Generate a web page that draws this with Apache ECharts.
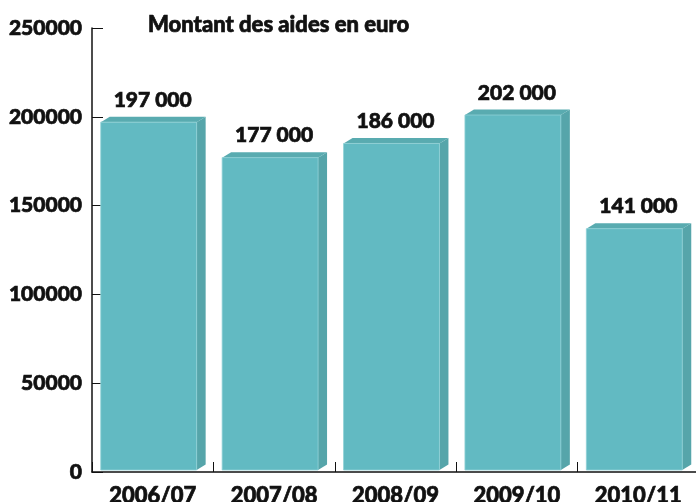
<!DOCTYPE html>
<html>
<head>
<meta charset="utf-8">
<script src="https://cdn.jsdelivr.net/npm/echarts@6/dist/echarts.min.js"></script>
<style>
html,body{margin:0;padding:0;background:#fff;}
#chart{width:696px;height:502px;}
</style>
</head>
<body>
<div id="chart"></div>
<script>
// Data
const categories = ['2006/07', '2007/08', '2008/09', '2009/10', '2010/11'];
// bar heights as drawn in the picture
const barHeights = [197000, 177000, 185000, 201000, 137000];
// amounts written above the bars
const amountLabels = ['197 000', '177 000', '186 000', '202 000', '141 000'];
const yTicks = [0, 50000, 100000, 150000, 200000, 250000];
const titleText = 'Montant des aides en euro';

const FONT = 'Lato';
const INK = '#111';
const chart = echarts.init(document.getElementById('chart'), null, {renderer: 'canvas'});

function renderBar(params, api) {
  const cat = api.value(0);
  const val = api.value(1);
  const top = api.coord([cat, val]);
  const base = api.coord([cat, 0]);
  const band = api.size([1, 0])[0];
  const w = band * 0.79;
  const dx = 9, dy = 5.5;
  const x = top[0] - w / 2 - 4;
  const y = top[1];
  const bottom = base[1] - 2;
  return {
    type: 'group',
    children: [
      {
        type: 'polygon',
        shape: {points: [[x + w, y], [x + w + dx, y - dy], [x + w + dx, bottom - dy], [x + w, bottom]]},
        style: {fill: '#56a5aa'}
      },
      {
        type: 'polygon',
        shape: {points: [[x, y], [x + dx, y - dy], [x + w + dx, y - dy], [x + w, y]]},
        style: {fill: '#59abb0'}
      },
      {
        type: 'rect',
        shape: {x: x, y: y, width: w, height: bottom - y},
        style: {fill: '#62bac2', stroke: '#8fd0d6', lineWidth: 0.8}
      },
      {
        type: 'text',
        x: top[0],
        y: y - 22,
        style: {
          text: amountLabels[params.dataIndex],
          fill: INK,
          font: '900 21px ' + FONT,
          stroke: INK,
          lineWidth: 0.7,
          align: 'center',
          verticalAlign: 'middle'
        }
      }
    ]
  };
}

const heavy = {color: INK, fontFamily: FONT, fontWeight: 900, textBorderColor: INK, textBorderWidth: 0.7};

const option = {
  animation: false,
  backgroundColor: '#ffffff',
  title: {
    text: titleText,
    left: 143,
    top: 9,
    textStyle: Object.assign({}, heavy, {fontSize: 22})
  },
  grid: {left: 92, right: -3, top: 28, bottom: 30, containLabel: false, outerBoundsMode: 'none'},
  xAxis: {
    type: 'category',
    data: categories,
    boundaryGap: true,
    axisLine: {lineStyle: {color: INK, width: 1.5}},
    axisTick: {show: true, inside: true, length: 10, alignWithLabel: false, lineStyle: {color: INK, width: 1}},
    axisLabel: Object.assign({}, heavy, {fontSize: 22, margin: 13, interval: 0}),
    splitLine: {show: false}
  },
  yAxis: {
    type: 'value',
    min: yTicks[0],
    max: yTicks[yTicks.length - 1],
    interval: yTicks[1] - yTicks[0],
    axisLine: {show: true, lineStyle: {color: INK, width: 1.5}},
    axisTick: {show: true, inside: true, length: 11, lineStyle: {color: INK, width: 1}},
    axisLabel: Object.assign({}, heavy, {fontSize: 21, margin: 10, formatter: v => String(v)}),
    splitLine: {show: false}
  },
  series: [{
    type: 'custom',
    renderItem: renderBar,
    data: barHeights.map((v, i) => [i, v]),
    encode: {x: 0, y: 1},
    clip: false,
    z: 1
  }]
};
chart.setOption(option);
</script>
</body>
</html>
